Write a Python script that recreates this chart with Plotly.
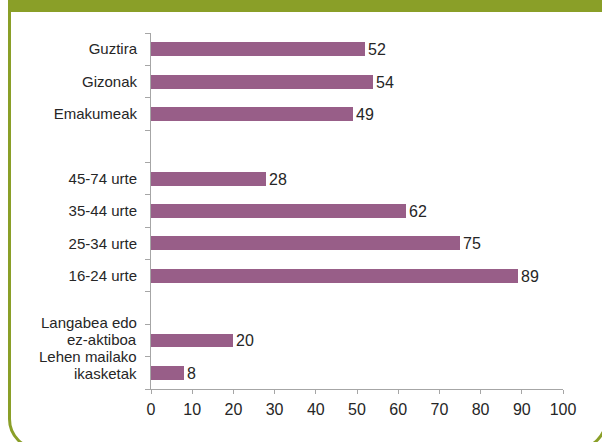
import plotly.graph_objects as go

# ---- data ----
categories = ["Guztira", "Gizonak", "Emakumeak", "",
              "45-74 urte", "35-44 urte", "25-34 urte", "16-24 urte", "",
              "Langabea edo<br>ez-aktiboa", "Lehen mailako<br>ikasketak"]
values = [52, 54, 49, None, 28, 62, 75, 89, None, 20, 8]
x_ticks = [0, 10, 20, 30, 40, 50, 60, 70, 80, 90, 100]

# ---- styling ----
W, H = 602, 442
L, R, T, B = 151, 39, 33, 53
BAR = "#985E88"
GREEN = "#8A9F28"
AXIS = "#A6A6A6"
TXT = "#262626"
FONT = "Liberation Sans, Arial, sans-serif"

rows = list(range(len(categories)))
text = [str(v) if v is not None else "" for v in values]

# single-line labels go on the axis; two-line labels are drawn line by line
tick_text = [c if "<br>" not in c else "" for c in categories]

fig = go.Figure()
fig.add_trace(go.Bar(
    x=values, y=rows, orientation="h",
    marker=dict(color=BAR, line=dict(width=0)),
    width=0.43,
    text=text, textposition="outside", constraintext="none",
    textfont=dict(size=16, color=TXT, family=FONT),
    cliponaxis=False, hoverinfo="skip",
))

multi = [i for i, c in enumerate(categories) if "<br>" in c]
for n, i in enumerate(multi):
    lines = categories[i].split("<br>")
    base = 1 if n == 0 else -1
    for j, ln in enumerate(lines):
        fig.add_annotation(
            x=0, xref="paper", xanchor="right", xshift=-12,
            y=i, yref="y", yanchor="middle",
            yshift=base + 17 * (len(lines) - 1 - j),
            text=ln, showarrow=False,
            font=dict(size=15, color=TXT, family=FONT),
        )

pw, ph = W - L - R, H - T - B


def px(x):
    return (x - L) / pw


def py(y):
    return (H - B - y) / ph


# frame: top band + left/bottom/right rounded border
fig.add_shape(type="rect", xref="paper", yref="paper",
              x0=px(8), x1=px(610), y0=py(-5), y1=py(12),
              fillcolor=GREEN, line=dict(width=0), layer="below")
k = 0.5523
r = 30
xl, xr, yb = 9.5, 606, 449
pts = [
    f"M {px(xl)},{py(-5)}",
    f"L {px(xl)},{py(yb - r)}",
    f"C {px(xl)},{py(yb - r + k * r)} {px(xl + r - k * r)},{py(yb)} {px(xl + r)},{py(yb)}",
    f"L {px(xr - r)},{py(yb)}",
    f"C {px(xr - r + k * r)},{py(yb)} {px(xr)},{py(yb - r + k * r)} {px(xr)},{py(yb - r)}",
    f"L {px(xr)},{py(-5)}",
]
fig.add_shape(type="path", xref="paper", yref="paper", path=" ".join(pts),
              line=dict(color=GREEN, width=3), layer="below")

fig.update_layout(
    width=W, height=H,
    margin=dict(l=L, r=R, t=T, b=B, pad=0),
    paper_bgcolor="white", plot_bgcolor="white",
    showlegend=False,
    font=dict(family=FONT, color=TXT),
    bargap=0,
)
fig.update_xaxes(
    range=[0, 100], tickvals=x_ticks, ticktext=[str(v) for v in x_ticks],
    showgrid=False, zeroline=False,
    showline=True, linecolor=AXIS, linewidth=1,
    ticks="outside", ticklen=4, tickcolor=AXIS, tickwidth=1,
    tickfont=dict(size=16, color=TXT, family=FONT),
    ticklabelstandoff=2,
)
fig.update_yaxes(
    range=[len(categories) - 0.5, -0.5],
    tickvals=rows, ticktext=tick_text,
    showgrid=False, zeroline=False,
    showline=True, linecolor=AXIS, linewidth=1,
    ticks="", tickfont=dict(size=15, color=TXT, family=FONT),
    ticklabelstandoff=10,
    minor=dict(tickmode="array", tickvals=[i - 0.5 for i in range(len(categories) + 1)],
               ticks="outside", ticklen=5, tickcolor=AXIS, tickwidth=1, showgrid=False),
)

fig.write_html("out.html", config={"displayModeBar": False},
               post_script="document.body.style.margin='0';document.body.style.padding='0';")
